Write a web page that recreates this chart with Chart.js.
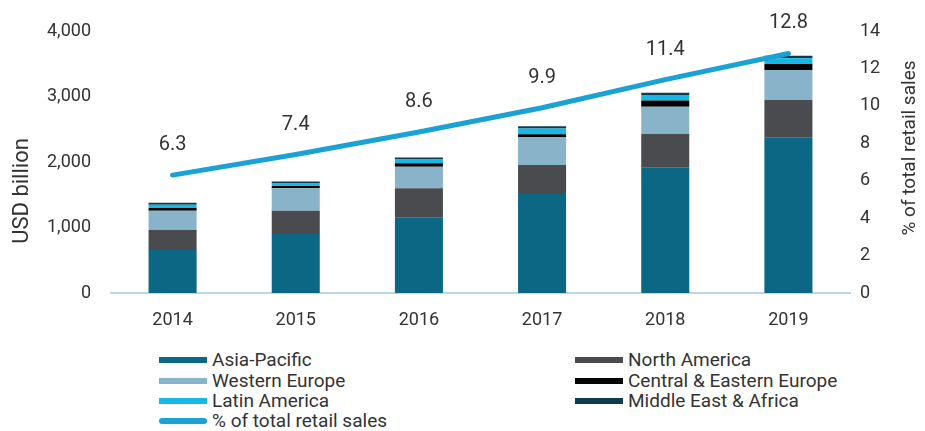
<!DOCTYPE html>
<html>
<head>
<meta charset="utf-8">
<script src="https://cdn.jsdelivr.net/npm/chart.js@4.4.1/dist/chart.umd.min.js"></script>
<style>
  body { margin: 0; background: #fff; font-family: Roboto, "Liberation Sans", sans-serif; }
  #wrap { position: relative; width: 925px; height: 431px; overflow: hidden; }
  #chart-box { position: absolute; left: 0; top: 0; width: 925px; height: 341px; }
  .lg { position: absolute; display: flex; align-items: center; font-size: 19px; color: #333; line-height: 20px; white-space: nowrap; }
  .sw { width: 48px; height: 6px; margin-right: 5px; }
  .sw.line { height: 6px; border-radius: 3px; }
</style>
</head>
<body>
<div id="wrap">
  <div id="chart-box"><canvas id="c"></canvas></div>
  <div id="legend"></div>
</div>
<script>
// ── DATA ────────────────────────────────────────────────────
const years = ['2014', '2015', '2016', '2017', '2018', '2019'];

const asiaPacific          = [656, 901, 1150, 1511, 1919, 2371];
const northAmerica         = [306, 355, 448, 443, 508, 576];
const westernEurope        = [294, 342, 330, 428, 417, 458];
const centralEasternEurope = [40, 35, 52, 41, 95, 91];
const latinAmerica         = [50, 40, 58, 88, 85, 87];
const middleEastAfrica     = [30, 28, 31, 35, 32, 40];

const retailShare = [6.3, 7.4, 8.6, 9.9, 11.4, 12.8];

const usdTicks = [0, 1000, 2000, 3000, 4000];
const pctTicks = [0, 2, 4, 6, 8, 10, 12, 14];

// ── STYLE ───────────────────────────────────────────────────
const TXT = '#333';
const LINE_C = '#1ba2d5';
const series = [
  { name: 'Asia-Pacific',             data: asiaPacific,          color: '#0b6783' },
  { name: 'North America',            data: northAmerica,         color: '#4a4b4f' },
  { name: 'Western Europe',           data: westernEurope,        color: '#88b3c8' },
  { name: 'Central & Eastern Europe', data: centralEasternEurope, color: '#050505' },
  { name: 'Latin America',            data: latinAmerica,         color: '#17b8e6' },
  { name: 'Middle East & Africa',     data: middleEastAfrica,     color: '#0e3c4b' }
];
const lineName = '% of total retail sales';

// ── PLUGINS ─────────────────────────────────────────────────
const lineLabels = {
  id: 'lineLabels',
  afterDatasetsDraw(chart) {
    const ctx = chart.ctx;
    const meta = chart.getDatasetMeta(series.length);
    ctx.save();
    ctx.fillStyle = TXT;
    ctx.font = '20px Roboto, sans-serif';
    ctx.textAlign = 'center';
    ctx.textBaseline = 'middle';
    meta.data.forEach((pt, i) => {
      ctx.fillText(retailShare[i].toFixed(1), pt.x, pt.y - 30);
    });
    ctx.restore();
  }
};

const axisTitles = {
  id: 'axisTitles',
  afterDraw(chart) {
    const ctx = chart.ctx;
    ctx.save();
    ctx.fillStyle = TXT;
    ctx.textAlign = 'center';
    ctx.textBaseline = 'middle';
    ctx.font = '22px Roboto, sans-serif';
    ctx.translate(22, 191);
    ctx.rotate(-Math.PI / 2);
    ctx.fillText('USD billion', 0, 0);
    ctx.restore();

    ctx.save();
    ctx.fillStyle = TXT;
    ctx.textAlign = 'center';
    ctx.textBaseline = 'middle';
    ctx.font = '19px Roboto, sans-serif';
    ctx.translate(910, 148);
    ctx.rotate(-Math.PI / 2);
    ctx.fillText(lineName, 0, 0);
    ctx.restore();
  }
};

// ── CHART ───────────────────────────────────────────────────
const datasets = series.map(s => ({
  type: 'bar',
  label: s.name,
  data: s.data,
  backgroundColor: s.color,
  yAxisID: 'y',
  stack: 'regions',
  order: 2,
  barPercentage: 0.39,
  categoryPercentage: 1
}));

datasets.push({
  type: 'line',
  label: lineName,
  data: retailShare,
  yAxisID: 'y1',
  borderColor: LINE_C,
  borderWidth: 5,
  borderCapStyle: 'round',
  pointRadius: 0,
  tension: 0,
  order: 1
});

new Chart(document.getElementById('c'), {
  data: { labels: years, datasets },
  options: {
    responsive: true,
    maintainAspectRatio: false,
    animation: false,
    layout: { padding: { top: 31 } },
    plugins: { legend: { display: false }, tooltip: { enabled: false } },
    scales: {
      x: {
        stacked: true,
        grid: { display: false, drawTicks: false },
        border: { color: '#bcd8e8', width: 2 },
        ticks: { color: TXT, font: { size: 18, family: 'Roboto' }, padding: 17 },
        afterFit: s => { s.height = 48; }
      },
      y: {
        stacked: true,
        position: 'left',
        min: 0, max: 4000,
        afterBuildTicks: s => { s.ticks = usdTicks.map(v => ({ value: v })); },
        ticks: { color: TXT, font: { size: 18, family: 'Roboto' }, padding: 20,
                 callback: v => v.toLocaleString('en-US') },
        grid: { display: false, drawTicks: false },
        border: { display: false },
        afterFit: s => { s.width = 111; }
      },
      y1: {
        position: 'right',
        min: 0, max: 14,
        afterBuildTicks: s => { s.ticks = pctTicks.map(v => ({ value: v })); },
        ticks: { color: TXT, font: { size: 18, family: 'Roboto' }, padding: 10 },
        grid: { display: false, drawTicks: false },
        border: { display: false },
        afterFit: s => { s.width = 75; }
      }
    }
  },
  plugins: [lineLabels, axisTitles]
});

// ── LEGEND ──────────────────────────────────────────────────
const legendItems = [
  { s: series[0], x: 159, y: 360 },
  { s: series[2], x: 159, y: 381 },
  { s: series[4], x: 159, y: 401 },
  { s: { name: lineName, color: LINE_C, line: true }, x: 159, y: 421 },
  { s: series[1], x: 575, y: 360 },
  { s: series[3], x: 575, y: 381 },
  { s: series[5], x: 575, y: 401 }
];
const lg = document.getElementById('legend');
legendItems.forEach(({ s, x, y }) => {
  const d = document.createElement('div');
  d.className = 'lg';
  d.style.left = x + 'px';
  d.style.top = (y - 10) + 'px';
  d.innerHTML = `<span class="sw${s.line ? ' line' : ''}" style="background:${s.color}"></span>${s.name}`;
  lg.appendChild(d);
});
</script>
</body>
</html>
